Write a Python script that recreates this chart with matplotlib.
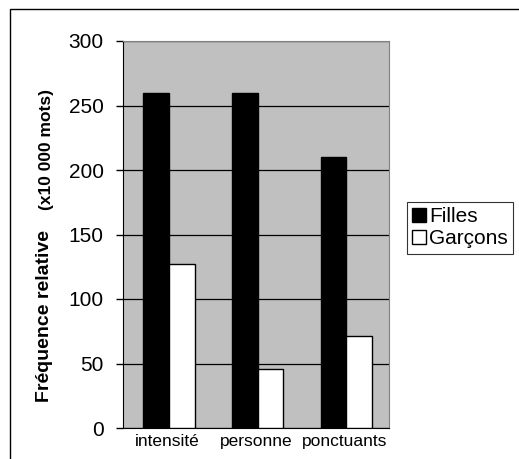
import numpy as np
import matplotlib.pyplot as plt
from matplotlib.patches import Rectangle

plt.rcParams['font.family'] = ['Liberation Sans', 'DejaVu Sans']

# ---------------------------------------------------------------------------
# Data
# ---------------------------------------------------------------------------
categories = ["intensité", "personne", "ponctuants"]
filles = [260, 260, 210]
garcons = [127, 46, 71]
y_ticks = [0, 50, 100, 150, 200, 250, 300]

fig = plt.figure(figsize=(5.19, 4.59), dpi=100)
ax = fig.add_axes([123 / 519, 1 - 428 / 459, (389 - 123) / 519, (428 - 41) / 459])
ax.set_facecolor('#c0c0c0')

x = np.arange(len(categories)) + 0.5
w = 0.29
ax.bar(x - w / 2 + 0.02, filles, w, color='black', edgecolor='black',
       linewidth=1, label='Filles', zorder=3)
ax.bar(x + w / 2 + 0.02, garcons, w, color='white', edgecolor='black',
       linewidth=1, label='Garçons', zorder=3)

ax.set_xlim(0, len(categories))
ax.set_ylim(0, 300)
ax.set_yticks(y_ticks)
ax.set_yticklabels([str(t) for t in y_ticks], fontsize=15)
ax.set_xticks(x)
ax.set_xticklabels(categories, fontsize=12.5)
ax.tick_params(axis='x', length=0, pad=4)
ax.tick_params(axis='y', length=5, width=1, direction='out', pad=9)
ax.grid(axis='y', color='black', linewidth=0.9, zorder=1)

for side in ('top', 'right'):
    ax.spines[side].set_color('#808080')
for side in ('left', 'bottom'):
    ax.spines[side].set_color('black')

# y label in two parts
fig.text(45 / 519, 1 - 316 / 459, "Fréquence relative", rotation=90,
         fontsize=14, fontweight='bold', ha='center', va='center')
fig.text(47 / 519, 1 - 150 / 459, "(x10 000 mots)", rotation=90,
         fontsize=12.5, fontweight='bold', ha='center', va='center')

# legend
leg = fig.legend(loc='upper left', bbox_to_anchor=(407 / 519, 1 - 202 / 459),
                 fontsize=15, frameon=True, fancybox=False, edgecolor='black',
                 handlelength=0.65, handleheight=0.65, handletextpad=0.15,
                 borderpad=0.25, labelspacing=0.15, borderaxespad=0)
leg.get_frame().set_linewidth(0.8)

# outer frame
fig.patches.append(Rectangle((10 / 519, -0.1), 1.2, 1 - 9 / 459 + 0.1,
                             transform=fig.transFigure, fill=False,
                             edgecolor='black', linewidth=1))

fig.savefig("out.png", dpi=100)
